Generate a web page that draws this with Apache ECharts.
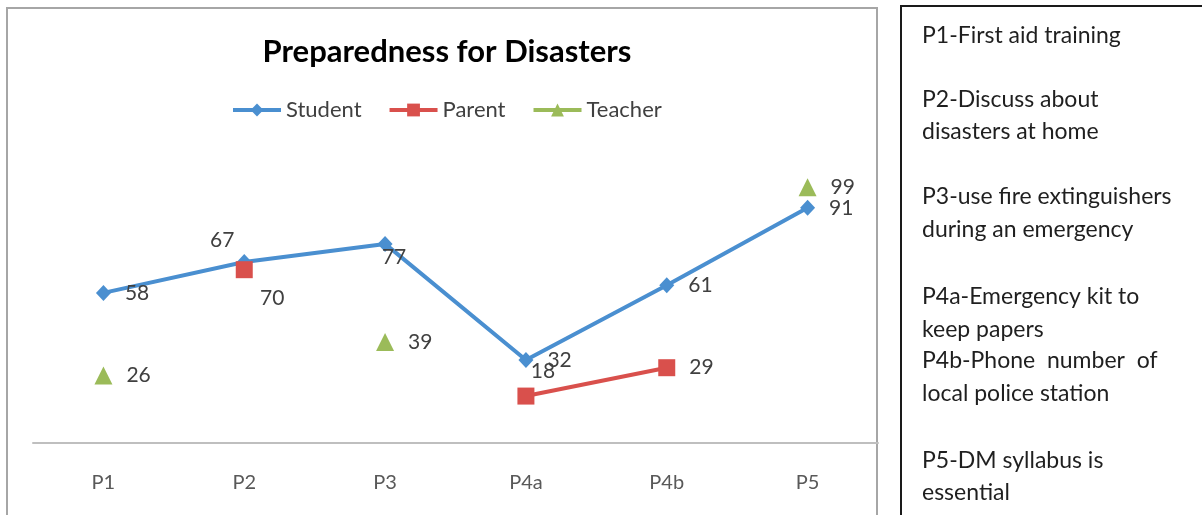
<!DOCTYPE html>
<html>
<head>
<meta charset="utf-8">
<script src="https://cdn.jsdelivr.net/npm/echarts@6/dist/echarts.min.js"></script>
<style>
  html, body { margin: 0; padding: 0; background: #ffffff; }
  #chart { width: 1202px; height: 515px; }
</style>
</head>
<body>
<div id="chart"></div>
<script>
// categories and values
var categories = ['P1', 'P2', 'P3', 'P4a', 'P4b', 'P5']
var student = [58, 70, 77, 32, 61, 91]
var parent = [null, 67, null, 18, 29, null]
var teacher = [26, null, 39, null, null, 99]

// notes in the box on the right
var noteLines = [
  'P1-First aid training',
  'P2-Discuss about', 'disasters at home',
  'P3-use fire extinguishers', 'during an emergency',
  'P4a-Emergency kit to', 'keep papers',
  'P4b-Phone  number  of', 'local police station',
  'P5-DM syllabus is', 'essential'
]
var noteY = [36, 100, 132, 197, 230, 297, 330, 361, 394, 461, 493]

var FONT = 'Lato, "Open Sans", sans-serif'
var labelColor = '#404040'

// labels that were dragged by hand in the original
var studentLabelMoves = { 1: [28, 36], 2: [9, 13] }
var parentLabelMoves = { 1: [-22, -29], 3: [17, -25] }

function buildData (values, moves) {
  return values.map(function (v, i) {
    if (v === null) return '-'
    var item = { value: v }
    if (moves[i]) {
      item.label = { position: 'inside', offset: moves[i] }
    }
    return item
  })
}

function lineSeries (name, values, color, symbol, size, moves) {
  return {
    name: name,
    type: 'line',
    data: buildData(values, moves),
    connectNulls: false,
    symbol: symbol,
    symbolSize: size,
    showAllSymbol: true,
    color: color,
    itemStyle: { color: color },
    lineStyle: { color: color, width: 4 },
    label: {
      show: true,
      position: 'right',
      distance: 14,
      color: labelColor,
      fontFamily: FONT,
      fontSize: 21
    },
    emphasis: { disabled: true },
    animation: false
  }
}

var graphics = [
  {
    type: 'rect',
    shape: { x: 7, y: 8, width: 870, height: 530 },
    style: { fill: 'none', stroke: '#a6a6a6', lineWidth: 2 },
    silent: true
  },
  {
    type: 'rect',
    shape: { x: 901, y: 6, width: 320, height: 530 },
    style: { fill: '#ffffff', stroke: '#1a1a1a', lineWidth: 2 },
    silent: true
  }
]
noteLines.forEach(function (t, i) {
  graphics.push({
    type: 'text',
    left: 922,
    top: noteY[i] - 12,
    style: {
      text: t,
      fill: '#1f1f1f',
      font: '23px ' + FONT
    },
    silent: true
  })
})

var myChart = echarts.init(document.getElementById('chart'))
myChart.setOption({
  backgroundColor: '#ffffff',
  animation: false,
  title: {
    text: 'Preparedness for Disasters',
    left: 442,
    textAlign: 'center',
    top: 31,
    textStyle: {
      fontFamily: FONT,
      fontSize: 31,
      fontWeight: 'bold',
      color: '#000000'
    }
  },
  legend: {
    top: 94,
    left: 226,
    itemWidth: 48,
    itemHeight: 16,
    itemGap: 26,
    lineStyle: { width: 4 },
    data: ['Student', 'Parent', 'Teacher'],
    textStyle: { fontFamily: FONT, fontSize: 22, color: '#404040' }
  },
  grid: {
    left: 33,
    width: 845,
    top: 133,
    height: 309.5,
    containLabel: false
  },
  xAxis: {
    type: 'category',
    data: categories,
    boundaryGap: true,
    axisLine: { lineStyle: { color: '#bfbfbf', width: 2 } },
    axisTick: { show: false },
    axisLabel: {
      margin: 30,
      color: '#595959',
      fontFamily: FONT,
      fontSize: 20
    }
  },
  yAxis: {
    type: 'value',
    min: 0,
    max: 120,
    show: false,
    splitLine: { show: false }
  },
  graphic: graphics,
  series: [
    lineSeries('Student', student, '#4a8fd0', 'diamond', [15, 16], studentLabelMoves),
    lineSeries('Parent', parent, '#d9504c', 'rect', 17, parentLabelMoves),
    lineSeries('Teacher', teacher, '#9bbb59', 'triangle', 18, {})
  ]
})
</script>
</body>
</html>
